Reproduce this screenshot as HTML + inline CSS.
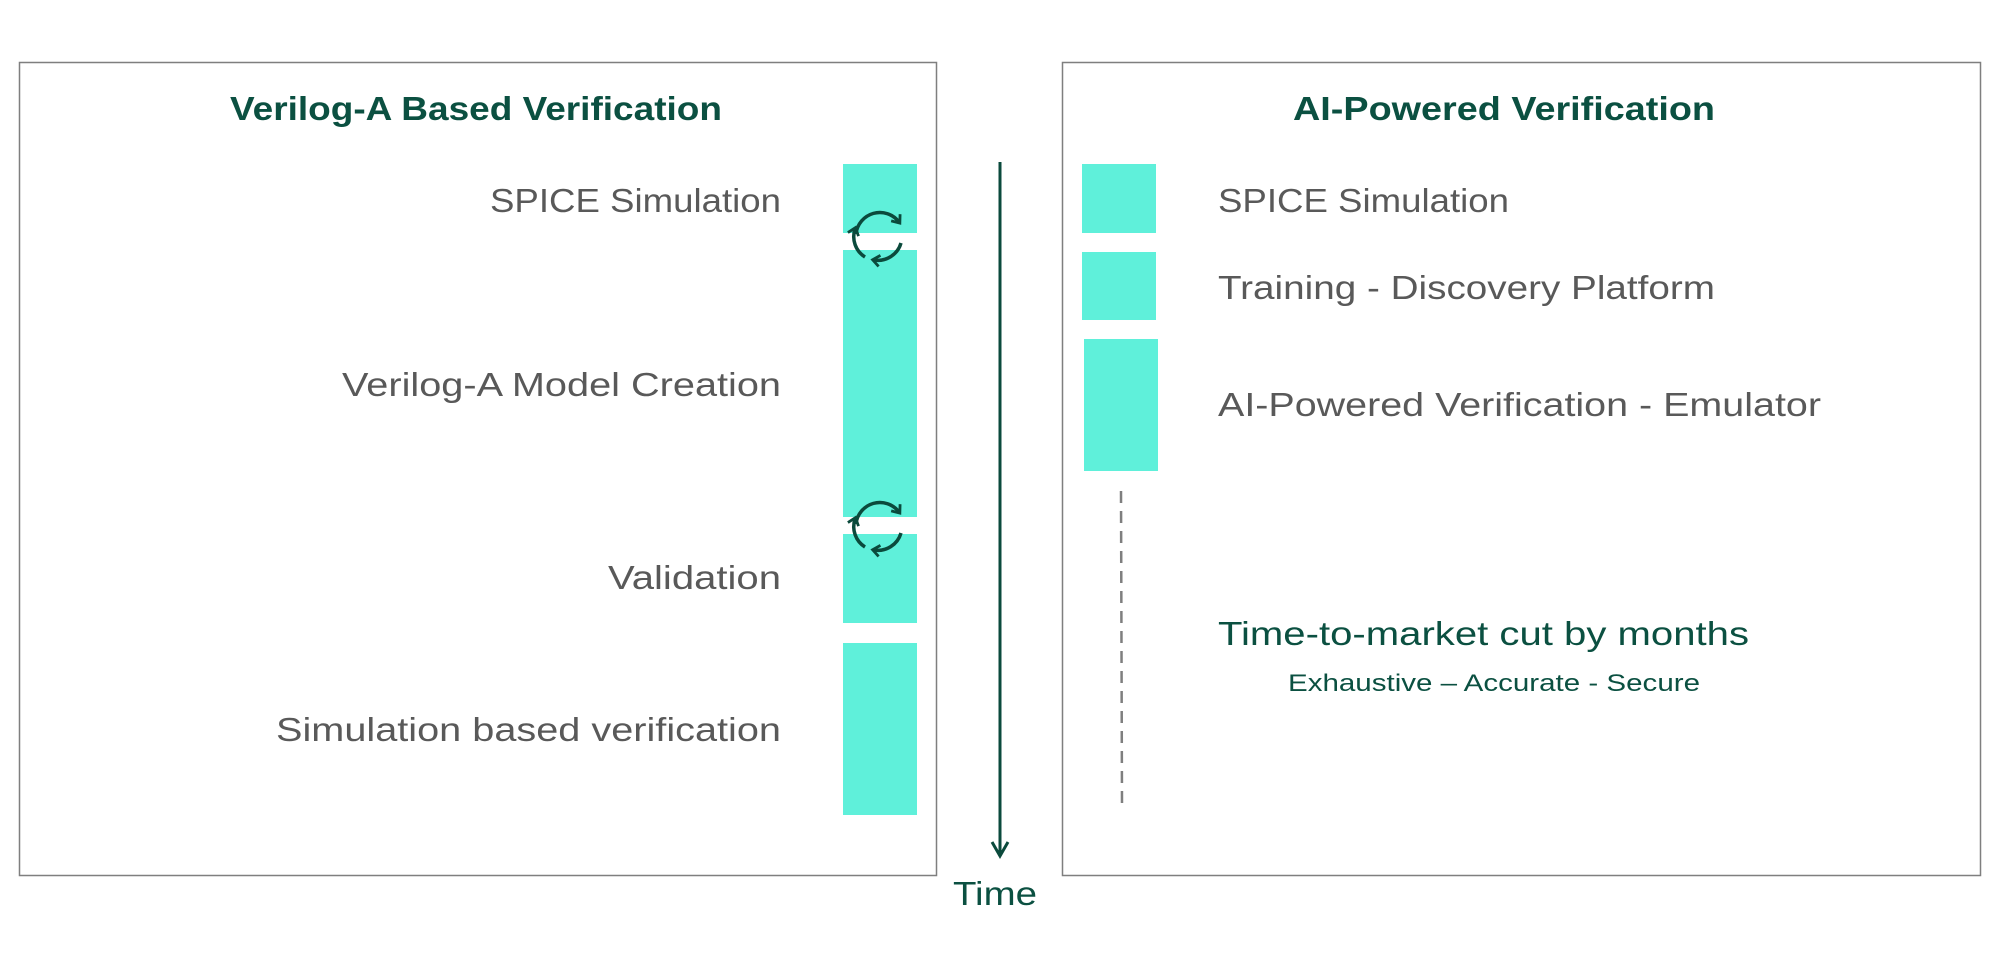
<!DOCTYPE html>
<html><head><meta charset="utf-8"><style>
html,body{margin:0;padding:0;background:#fff;}
svg{display:block;}
text{font-family:"Liberation Sans",sans-serif;}
</style></head><body>
<svg width="2000" height="969" viewBox="0 0 2000 969" xmlns="http://www.w3.org/2000/svg">
<defs>
<marker id="ah" viewBox="0 0 10 10" refX="5" refY="5" markerWidth="4" markerHeight="4" orient="auto"><path d="M1,1 L6,5 L1,9" fill="none" stroke="#0b4a3c" stroke-width="2"/></marker>
</defs>
<rect x="19.5" y="62.5" width="917" height="813" fill="none" stroke="#7f7f7f" stroke-width="1.5"/>
<rect x="1062.5" y="62.5" width="918" height="813" fill="none" stroke="#7f7f7f" stroke-width="1.5"/>
<g fill="#0b5041" font-weight="bold" font-size="33">
<text x="230" y="120" textLength="492" lengthAdjust="spacingAndGlyphs">Verilog-A Based Verification</text>
<text x="1293" y="120" textLength="422" lengthAdjust="spacingAndGlyphs">AI-Powered Verification</text>
</g>
<g fill="#595959" font-size="33">
<text x="781" y="212" text-anchor="end" textLength="291" lengthAdjust="spacingAndGlyphs">SPICE Simulation</text>
<text x="781" y="396" text-anchor="end" textLength="439" lengthAdjust="spacingAndGlyphs">Verilog-A Model Creation</text>
<text x="781" y="589" text-anchor="end" textLength="173" lengthAdjust="spacingAndGlyphs">Validation</text>
<text x="781" y="741" text-anchor="end" textLength="505" lengthAdjust="spacingAndGlyphs">Simulation based verification</text>
<text x="1218" y="212" textLength="291" lengthAdjust="spacingAndGlyphs">SPICE Simulation</text>
<text x="1218" y="299" textLength="497" lengthAdjust="spacingAndGlyphs">Training - Discovery Platform</text>
<text x="1218" y="416" textLength="603" lengthAdjust="spacingAndGlyphs">AI-Powered Verification - Emulator</text>
</g>
<g fill="#5ff0da">
<rect x="843" y="164" width="74" height="69"/>
<rect x="843" y="250" width="74" height="267"/>
<rect x="843" y="534" width="74" height="89"/>
<rect x="843" y="643" width="74" height="172"/>
<rect x="1082" y="164" width="74" height="69"/>
<rect x="1082" y="252" width="74" height="68"/>
<rect x="1084" y="339" width="74" height="132"/>
</g>
<g fill="none" stroke="#0b4a3c" stroke-width="3.5" marker-end="url(#ah)">
<path d="M856,234 A24,24 0 0 1 899,222"/>
<path d="M901,243 A24,24 0 0 1 874,260"/>
<path d="M865,257 A24,24 0 0 1 855,229"/>
<path d="M856,524 A24,24 0 0 1 899,512"/>
<path d="M901,533 A24,24 0 0 1 874,550"/>
<path d="M865,547 A24,24 0 0 1 855,519"/>
</g>
<line x1="1000" y1="162" x2="1000" y2="854" stroke="#0b4a3c" stroke-width="3"/>
<path d="M992,842 L1000,856 L1008,842" fill="none" stroke="#0b4a3c" stroke-width="3"/>
<text x="995" y="905" text-anchor="middle" font-size="33" fill="#0b5041" textLength="84" lengthAdjust="spacingAndGlyphs">Time</text>
<line x1="1121" y1="491" x2="1122" y2="805" stroke="#7f7f7f" stroke-width="2.5" stroke-dasharray="12,8"/>
<text x="1218" y="645" font-size="33" fill="#0b5041" textLength="531" lengthAdjust="spacingAndGlyphs">Time-to-market cut by months</text>
<text x="1494" y="691" text-anchor="middle" font-size="24" fill="#0b5041" textLength="412" lengthAdjust="spacingAndGlyphs">Exhaustive – Accurate - Secure</text>
</svg>
</body></html>
